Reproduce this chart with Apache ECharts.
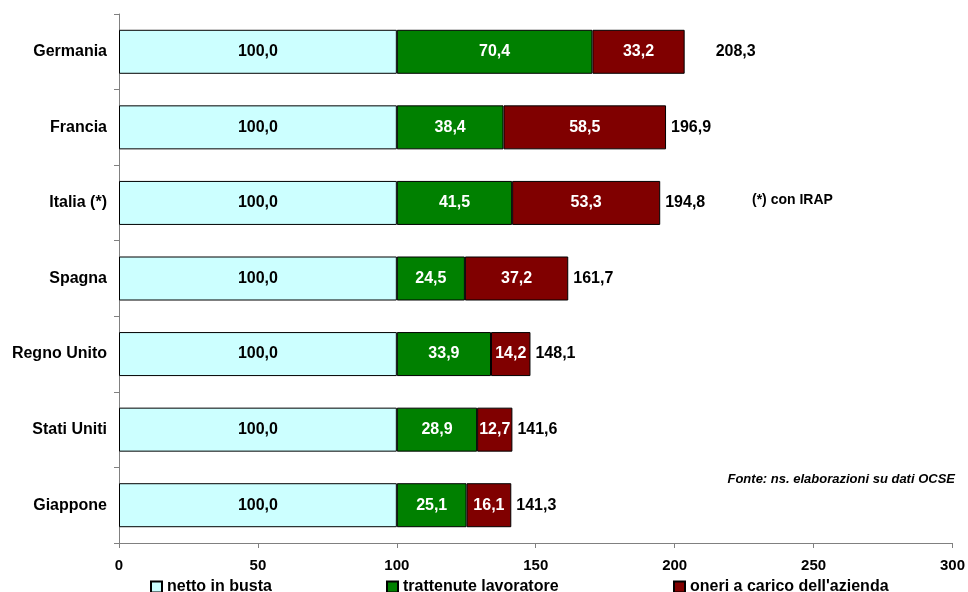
<!DOCTYPE html>
<html><head><meta charset="utf-8">
<script src="https://cdn.jsdelivr.net/npm/echarts@6/dist/echarts.min.js"></script>
<style>html,body{margin:0;padding:0;background:#fff}#c{width:968px;height:592px}</style>
</head><body><div id="c"></div>
<script>
const categories = ['Germania','Francia','Italia (*)','Spagna','Regno Unito','Stati Uniti','Giappone'];
const netto = [100.0,100.0,100.0,100.0,100.0,100.0,100.0];
const trattenute = [70.4,38.4,41.5,24.5,33.9,28.9,25.1];
const oneri = [33.2,58.5,53.3,37.2,14.2,12.7,16.1];
const totali = [208.3,196.9,194.8,161.7,148.1,141.6,141.3];
const seriesNames = ['netto in busta','trattenute lavoratore',"oneri a carico dell'azienda"];
const xTicks = [0,50,100,150,200,250,300];

const cats = categories.slice().reverse();
const rev = a => a.slice().reverse();
const fmt = v => v.toFixed(1).replace('.', ',');
const font = 'Liberation Sans, Arial, sans-serif';

const chart = echarts.init(document.getElementById('c'));
const barLabel = {show:true, position:'inside', fontFamily:font, fontWeight:'bold', fontSize:16,
    formatter:p=>fmt(p.value)};
const endPos = cats.map((c,i)=>{
  const r = categories.length-1-i;
  return netto[r]+trattenute[r]+oneri[r];
});
const legendText = {fontFamily:font, fontWeight:'bold', fontSize:16, color:'#000'};
const legendBase = {top:579, itemWidth:11, itemHeight:11, icon:'rect', textStyle:legendText, padding:0};
chart.setOption({
  animation:false,
  grid:{left:119, right:13, top:14, bottom:49},
  xAxis:{type:'value', min:xTicks[0], max:xTicks[xTicks.length-1], interval:50,
    axisLine:{show:true, lineStyle:{color:'#808080', width:1}},
    axisTick:{show:true, length:5, lineStyle:{color:'#808080'}},
    splitLine:{show:false},
    axisLabel:{color:'#000', fontFamily:font, fontWeight:'bold', fontSize:15, margin:15}},
  yAxis:{type:'category', data:cats,
    axisLine:{show:true, lineStyle:{color:'#808080'}},
    axisTick:{show:true, length:5, lineStyle:{color:'#808080'}},
    axisLabel:{color:'#000', fontFamily:font, fontWeight:'bold', fontSize:16, margin:12}},
  legend:[
    Object.assign({data:[seriesNames[0]], left:150}, legendBase),
    Object.assign({data:[seriesNames[1]], left:386}, legendBase),
    Object.assign({data:[seriesNames[2]], left:673}, legendBase)
  ],
  series:[
    {type:'bar', stack:'t', barWidth:44, name:seriesNames[0], data:rev(netto),
      itemStyle:{color:'#CCFFFF', borderColor:'#000', borderWidth:1},
      label:Object.assign({}, barLabel, {color:'#000'})},
    {type:'bar', stack:'t', barWidth:44, name:seriesNames[1], data:rev(trattenute),
      itemStyle:{color:'#008000', borderColor:'#000', borderWidth:1},
      label:Object.assign({}, barLabel, {color:'#fff'})},
    {type:'bar', stack:'t', barWidth:44, name:seriesNames[2], data:rev(oneri),
      itemStyle:{color:'#800000', borderColor:'#000', borderWidth:1},
      label:Object.assign({}, barLabel, {color:'#fff'})},
    {type:'scatter', symbolSize:0, silent:true, itemStyle:{opacity:1},
      data:cats.map((c,i)=>{
        const r = categories.length-1-i;
        const item = {value:[endPos[i], c], total:totali[r]};
        if (c==='Germania') item.label = {offset:[26,0]};
        return item;
      }),
      label:{show:true, position:'right', distance:5, color:'#000', fontFamily:font,
        fontWeight:'bold', fontSize:16, formatter:p=>fmt(p.data.total)}}
  ],
  graphic:[
    {type:'text', left:752, top:193, style:{text:'(*) con IRAP', fontFamily:font, fontWeight:'bold', fontSize:14, fill:'#000'}},
    {type:'text', right:13, top:473, style:{text:'Fonte: ns. elaborazioni su dati OCSE', fontFamily:font, fontWeight:'bold', fontStyle:'italic', fontSize:13, fill:'#000'}}
  ]
});
</script>
</body></html>
